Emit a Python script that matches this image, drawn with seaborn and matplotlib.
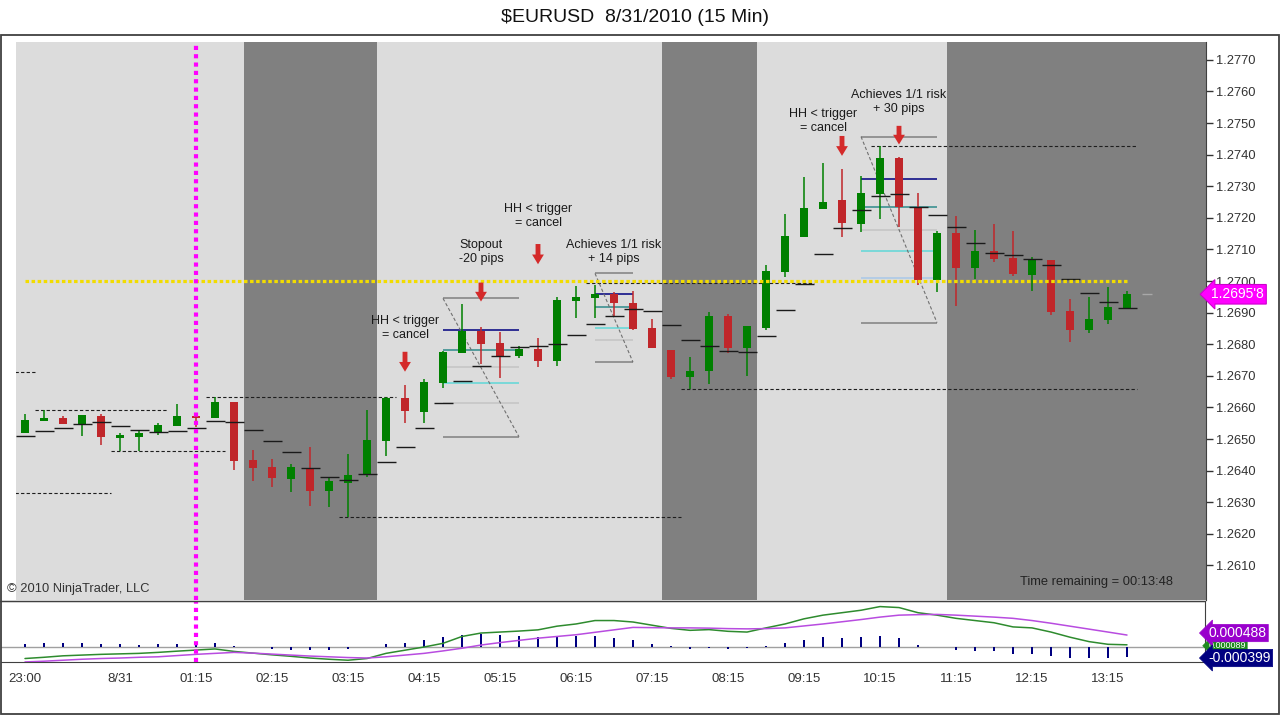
import numpy as np
import pandas as pd
import seaborn as sns
import matplotlib.pyplot as plt
from matplotlib.patches import Rectangle
from matplotlib.lines import Line2D
import matplotlib.transforms as mtransforms

sns.set_style("white")
plt.rcParams['font.family'] = ['Liberation Sans', 'DejaVu Sans']

# candles, 15 min bars from 23:00 (bar 0) to 13:30 (bar 58)
opens = [1.2652, 1.26558, 1.26566, 1.26547, 1.26573, 1.26504, 1.26507, 1.2652, 1.26541, 1.26573,
         1.26567, 1.26617, 1.26434, 1.26412, 1.26374, 1.26407, 1.26336, 1.26362, 1.26386, 1.26495,
         1.26631, 1.26585, 1.26678, 1.26771, 1.26843, 1.26803, 1.26764, 1.26785, 1.26748, 1.26938,
         1.26946, 1.26959, 1.26931, 1.26851, 1.26782, 1.26697, 1.26716, 1.2689, 1.26789, 1.2685,
         1.27028, 1.2714, 1.27229, 1.27256, 1.2718, 1.27275, 1.27389, 1.27235, 1.27003, 1.27151,
         1.27042, 1.27095, 1.27074, 1.27019, 1.27066, 1.26905, 1.26845, 1.26877, 1.26914]
highs = [1.26579, 1.26592, 1.26573, 1.26576, 1.26579, 1.26518, 1.26528, 1.26552, 1.26611, 1.26581,
         1.26634, 1.26617, 1.26465, 1.26438, 1.26421, 1.26474, 1.26379, 1.26453, 1.26592, 1.26634,
         1.26671, 1.26689, 1.26778, 1.26927, 1.26855, 1.26839, 1.26794, 1.26821, 1.2695, 1.26984,
         1.26987, 1.26966, 1.26969, 1.2688, 1.26782, 1.2676, 1.26903, 1.26894, 1.26858, 1.27051,
         1.27211, 1.2733, 1.27374, 1.27353, 1.27332, 1.27426, 1.27393, 1.27278, 1.27159, 1.27206,
         1.27161, 1.2718, 1.27158, 1.27075, 1.27066, 1.26942, 1.2695, 1.26982, 1.26969]
lows = [1.2652, 1.26558, 1.26547, 1.26509, 1.26482, 1.26461, 1.26461, 1.26512, 1.2654, 1.26539,
        1.26567, 1.26402, 1.26368, 1.26349, 1.26333, 1.26288, 1.26284, 1.26254, 1.26379, 1.26446,
        1.26552, 1.2655, 1.2666, 1.26771, 1.26737, 1.26692, 1.26757, 1.26729, 1.26732, 1.26882,
        1.26882, 1.26887, 1.26845, 1.26789, 1.26689, 1.26657, 1.26674, 1.26771, 1.26699, 1.26845,
        1.27012, 1.2714, 1.27229, 1.2714, 1.27156, 1.27195, 1.27172, 1.26987, 1.26966, 1.26921,
        1.27006, 1.27061, 1.27016, 1.26969, 1.26891, 1.26808, 1.26834, 1.26864, 1.2691]
closes = [1.2656, 1.26566, 1.26548, 1.26576, 1.26507, 1.26513, 1.26519, 1.26543, 1.26573, 1.26566,
          1.26618, 1.26431, 1.26409, 1.26378, 1.26412, 1.26336, 1.26368, 1.26386, 1.26497, 1.26631,
          1.2659, 1.2668, 1.26775, 1.26843, 1.26802, 1.26763, 1.26785, 1.26748, 1.2694, 1.2695,
          1.26959, 1.26929, 1.26849, 1.26789, 1.26697, 1.26714, 1.26889, 1.26787, 1.26858, 1.27033,
          1.27143, 1.27232, 1.2725, 1.27184, 1.27278, 1.27389, 1.27235, 1.27003, 1.27151, 1.27042,
          1.27095, 1.2707, 1.27022, 1.27069, 1.26902, 1.26845, 1.2688, 1.26919, 1.26958]
# short black dash per bar (moving average)
avg_dash = [1.26508, 1.26525, 1.26534, 1.26547, 1.26553, 1.2654, 1.26528, 1.26521, 1.26525, 1.26534,
            1.26556, 1.26553, 1.26528, 1.26493, 1.26458, 1.26407, 1.26379, 1.26369, 1.26388, 1.26426,
            1.26474, 1.26535, 1.26613, 1.26683, 1.26731, 1.26763, 1.26792, 1.26794, 1.268, 1.26828,
            1.26863, 1.26889, 1.26912, 1.26906, 1.2686, 1.26813, 1.26793, 1.26778, 1.26774, 1.26826,
            1.26907, 1.2699, 1.27085, 1.27168, 1.27225, 1.27268, 1.27274, 1.27235, 1.27208, 1.2717,
            1.27119, 1.27088, 1.27081, 1.27069, 1.2705, 1.27005, 1.26961, 1.26933, 1.26914]

# MACD panel (x 1e-4)
macd = [-4.7, -4.2, -3.6, -3.3, -3.0, -2.8, -2.6, -2.2, -1.7, -1.25, -0.8, -1.8, -2.5, -3.2, -3.8,
        -4.5, -5.0, -5.4, -4.7, -2.6, -1.3, 0.0, 1.5, 4.3, 5.7, 6.1, 6.5, 7.0, 8.5, 9.4, 10.8, 10.8,
        10.2, 8.9, 7.6, 6.8, 7.1, 6.4, 6.1, 7.8, 9.4, 11.5, 13.0, 14.0, 15.0, 16.5, 16.1, 14.0, 13.0,
        11.7, 10.8, 9.9, 8.2, 7.8, 6.1, 4.0, 2.2, 1.1, 0.89]
signal = [-6.1, -5.8, -5.4, -5.0, -4.7, -4.5, -4.2, -4.0, -3.5, -3.0, -2.6, -2.2, -2.5, -2.9, -3.3,
          -3.7, -4.0, -4.3, -4.5, -4.0, -3.3, -2.6, -1.6, -0.5, 0.8, 1.8, 2.7, 3.6, 4.3, 5.0, 6.0, 7.0,
          8.0, 7.9, 7.8, 7.8, 7.7, 7.5, 7.4, 7.5, 7.8, 8.6, 9.4, 10.3, 11.2, 12.2, 13.0, 13.2, 13.3,
          13.0, 12.6, 12.2, 11.7, 10.8, 9.7, 8.5, 7.3, 6.1, 4.88]
hist = [1.25, 1.7, 1.7, 1.7, 1.25, 1.25, 0.8, 1.25, 1.25, 1.7, 1.7, 0.4, -0.1, -0.7, -1.1, -1.4, -1.4,
        -0.8, -0.1, 1.4, 1.7, 3.0, 4.0, 4.9, 5.4, 4.9, 4.4, 4.0, 4.0, 4.4, 4.4, 3.7, 2.8, 1.4, 0.3,
        -0.8, -0.4, -0.8, -0.4, 0.3, 1.7, 3.0, 4.0, 3.7, 4.0, 4.4, 3.5, 1.0, 0.0, -1.1, -1.5, -1.8,
        -2.8, -2.8, -3.5, -4.6, -4.6, -4.3, -3.99]

time_ticks = [0, 5, 9, 13, 17, 21, 25, 29, 33, 37, 41, 45, 49, 53, 57]
time_labels = ['23:00', '8/31', '01:15', '02:15', '03:15', '04:15', '05:15', '06:15',
               '07:15', '08:15', '09:15', '10:15', '11:15', '12:15', '13:15']
dark_sessions = [(11.5, 18.5), (33.5, 38.5), (48.5, 62.5)]

# dashed levels: (from bar, to bar, price)
dashed_levels = [(-0.5, 0.5, 1.26711), (0.5, 7.5, 1.26592), (4.5, 10.5, 1.26462), (-0.5, 4.5, 1.26328),
                 (9.5, 19.5, 1.26632), (16.5, 34.5, 1.26254), (34.5, 58.5, 1.26657),
                 (44.5, 58.5, 1.27426), (29.5, 41.5, 1.26993)]

# trade setups: start bar, end bar, levels (price, colour)
setups = [
    (22, 26, [(1.26945, '#808080'), (1.26845, '#000080'), (1.26782, '#2E8B8B'), (1.26727, '#C4C4C4'),
              (1.26676, '#5FD7D7'), (1.26613, '#C4C4C4'), (1.26507, '#808080')]),
    (30, 32, [(1.27024, '#808080'), (1.26959, '#000080'), (1.26919, '#2E8B8B'), (1.26850, '#5FD7D7'),
              (1.26813, '#C4C4C4'), (1.26743, '#808080')]),
    (44, 48, [(1.27457, '#808080'), (1.27322, '#000080'), (1.27235, '#2E8B8B'), (1.27161, '#C4C4C4'),
              (1.27096, '#5FD7D7'), (1.27009, '#A8C8E8'), (1.26868, '#808080')]),
]

arrow_bars = [20, 24, 27, 43, 46]
arrow_tops = [1.26776, 1.26995, 1.27117, 1.27459, 1.27491]
arrow_bottoms = [1.26713, 1.26935, 1.27053, 1.27396, 1.27432]

note_x = [20, 24, 27, 31, 42, 46]
note_y = [1.26851, 1.27092, 1.27206, 1.27092, 1.27506, 1.27567]
note_text = ['HH < trigger\n= cancel', 'Stopout\n-20 pips', 'HH < trigger\n= cancel',
             'Achieves 1/1 risk\n+ 14 pips', 'HH < trigger\n= cancel', 'Achieves 1/1 risk\n+ 30 pips']

W, H = 1280, 715
fig = plt.figure(figsize=(12.8, 7.15), dpi=100)
fig.patch.set_facecolor('white')

def px(x0, y0, x1, y1):
    return [x0 / W, 1 - y1 / H, (x1 - x0) / W, (y1 - y0) / H]

ax = fig.add_axes(px(16, 42, 1206, 600))
axi = fig.add_axes(px(1, 601, 1205, 662))

idx = np.arange(len(opens))
ax.set_xlim((16 - 25) / 19, (1206 - 25) / 19)
axi.set_xlim((1 - 25) / 19, (1205 - 25) / 19)
ax.set_ylim(1.2700 - 319 / 31600, 1.2700 + 239 / 31600)

# sessions
ax.set_facecolor('#DCDCDC')
for a, b in dark_sessions:
    ax.axvspan(a, b, color='#808080', lw=0, zorder=0)

green, red = '#008000', '#C0262A'
o = np.array(opens); c = np.array(closes)
cols = [green if cc >= oo else red for oo, cc in zip(o, c)]

# dashed levels and setups below candles
for a, b, p in dashed_levels:
    ax.hlines(p, a, b, colors='#1E1E1E', lw=0.8, linestyles=(0, (3, 2)), zorder=2)
for a, b, levels in setups:
    for p, col in levels:
        ax.hlines(p, a, b, colors=col, lw=1.1, zorder=2)
    ax.plot([a, b], [levels[0][0], levels[-1][0]], color='#707070', lw=0.8, ls=(0, (3, 2)), zorder=2)

ax.vlines(idx, lows, highs, colors=cols, lw=1.1, zorder=3)
ax.bar(idx, np.abs(c - o), bottom=np.minimum(o, c), width=0.47, color=cols, lw=0, zorder=4)
ax.hlines(avg_dash, idx - 0.45, idx + 0.5, colors='#1A1A1A', lw=1.0, zorder=5)
ax.hlines(closes[-1], 58.8, 59.3, colors='#A8A8A8', lw=1.0, zorder=5)

ax.hlines(1.2700, 0, 58, colors='#F2DC00', lw=2.3, linestyles=(0, (1.1, 0.8)), zorder=6)
ax.axvline(9, color='#FF00FF', lw=3, ls=(0, (1, 1)), zorder=7)

for b, t, btm in zip(arrow_bars, arrow_tops, arrow_bottoms):
    ax.annotate('', xy=(b, btm), xytext=(b, t),
                arrowprops=dict(arrowstyle='simple,head_length=0.7,head_width=0.85,tail_width=0.35',
                                fc='#D42A2A', ec='none', shrinkA=0, shrinkB=0), zorder=8)
for x, y, s in zip(note_x, note_y, note_text):
    ax.text(x, y, s, ha='center', va='center', fontsize=9, color='#1A1A1A', linespacing=1.25, zorder=8)

# price axis
ax.yaxis.tick_right()
ax.set_yticks(np.round(np.arange(1.2610, 1.27705, 0.001), 4))
ax.yaxis.set_major_formatter(plt.FuncFormatter(lambda v, _: f'{v:.4f}'))
ax.tick_params(axis='y', direction='out', length=5, width=1, colors='#333333', labelsize=9.3, pad=2)
ax.set_xticks([])
for side in ['left', 'top', 'bottom']:
    ax.spines[side].set_visible(False)
ax.spines['right'].set_color('#404040')

lt = mtransforms.blended_transform_factory(ax.transAxes, ax.transData)
ax.text(1.004, closes[-1], "1.2695'8", transform=lt, ha='left', va='center', fontsize=10,
        color='white', bbox=dict(boxstyle='larrow,pad=0.2', fc='#FF00FF', ec='#CC00CC', lw=0.8))

# MACD panel
df = pd.DataFrame({'bar': idx, 'macd': np.array(macd) * 1e-4, 'signal': np.array(signal) * 1e-4,
                   'hist': np.array(hist) * 1e-4})
axi.axhline(0, color='#A0A0A0', lw=1, zorder=1)
axi.bar(df['bar'], df['hist'], width=0.14, color='#000080', lw=0, zorder=2)
sns.lineplot(data=df, x='bar', y='macd', ax=axi, color='#2E8B2E', lw=1.1, zorder=3)
sns.lineplot(data=df, x='bar', y='signal', ax=axi, color='#B84CE0', lw=1.1, zorder=3)
axi.axvline(9, color='#FF00FF', lw=3, ls=(0, (1, 1)), zorder=7)
axi.set_ylim(-15 / 24.5 * 0.001, 46 / 24.5 * 0.001)
axi.set_xlabel('')
axi.set_ylabel('')
axi.set_yticks([])
axi.set_xticks(time_ticks)
axi.set_xticks([4], minor=True)
axi.set_xticklabels(time_labels)
axi.tick_params(axis='x', which='both', direction='out', length=6, width=1, colors='#404040',
                labelsize=9.5, pad=2)
axi.tick_params(axis='x', which='major', labelcolor='#333333')
axi.spines['left'].set_visible(False)
for side in ['top', 'right', 'bottom']:
    axi.spines[side].set_color('#404040')

it = mtransforms.blended_transform_factory(axi.transAxes, axi.transData)
tags = [(0.00005, '0.000089', '#1E8A1E', 6.5), (0.00057, '0.000488', '#9900CC', 10),
        (-0.00045, '-0.000399', '#000080', 10)]
for v, s, col, fs in tags:
    axi.text(1.003, v, s, transform=it, ha='left', va='center', fontsize=fs, color='white',
             bbox=dict(boxstyle='larrow,pad=0.12', fc=col, ec=col, lw=0.5))

# frame and texts
fig.add_artist(Rectangle((0.5 / W, 1 - 714 / H), 1278.5 / W, 679 / H, transform=fig.transFigure,
                         fill=False, ec='#404040', lw=1.3))
fig.add_artist(Line2D([0, 1205 / W], [1 - 600.5 / H] * 2, transform=fig.transFigure, color='#404040', lw=1))
fig.text(635 / W, 1 - 18 / H, '\\$EURUSD  8/31/2010 (15 Min)', ha='center', va='center',
         fontsize=14, color='#111111')
fig.text(7 / W, 1 - 589 / H, '\u00a9 2010 NinjaTrader, LLC', ha='left', va='center', fontsize=9.3,
         color='#333333')
fig.text(1020 / W, 1 - 582 / H, 'Time remaining = 00:13:48', ha='left', va='center', fontsize=9.3,
         color='#222222')

fig.savefig('out.png', dpi=100)
